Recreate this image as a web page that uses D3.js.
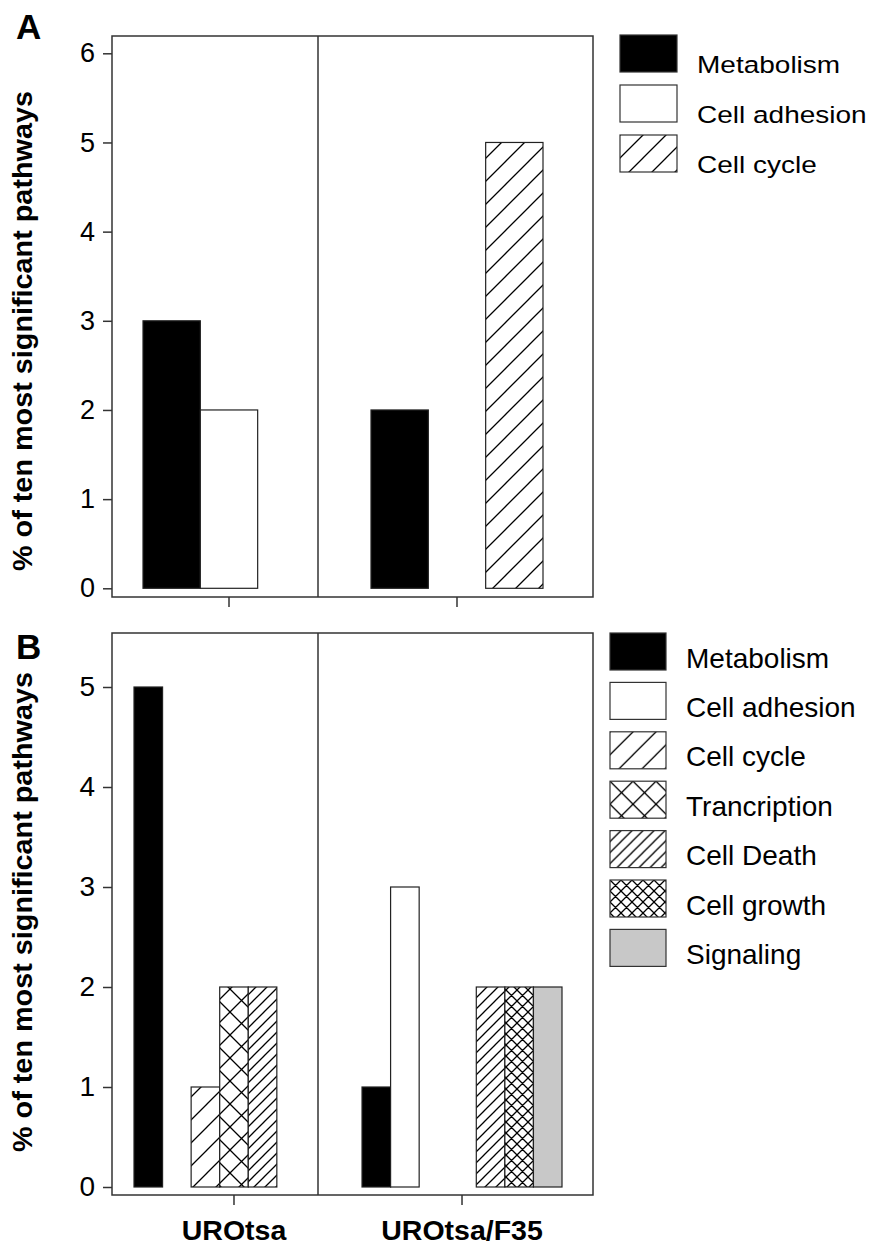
<!DOCTYPE html>
<html lang="en">
<head>
<meta charset="UTF-8">
<title>Pathways</title>
<script src="https://cdn.jsdelivr.net/npm/d3@7"></script>
<style>
  body { margin: 0; background: #fff; }
  text { font-family: Arial, "Liberation Sans", sans-serif; fill: #000; }
</style>
</head>
<body>
<script>
// data
var categories = ["UROtsa", "UROtsa/F35"];

var seriesA = ["Metabolism", "Cell adhesion", "Cell cycle"];
var metabolismA = [3, 2];
var adhesionA   = [2, 0];
var cycleA      = [0, 5];
var ticksA      = [0, 1, 2, 3, 4, 5, 6];

var seriesB = ["Metabolism", "Cell adhesion", "Cell cycle", "Trancription", "Cell Death", "Cell growth", "Signaling"];
var metabolismB    = [5, 1];
var adhesionB      = [0, 3];
var cycleB         = [1, 0];
var transcriptionB = [2, 0];
var deathB         = [2, 2];
var growthB        = [0, 2];
var signalingB     = [0, 2];
var ticksB         = [0, 1, 2, 3, 4, 5];

var yTitle = "% of ten most significant pathways";

var width = 873, height = 1245;
var svg = d3.select("body").append("svg")
    .attr("width", width).attr("height", height);

// fills for each series
var fills = {
    "Metabolism": "#000",
    "Cell adhesion": "#fff",
    "Cell cycle": "url(#hCycle)",
    "Trancription": "url(#hTrans)",
    "Cell Death": "url(#hDeath)",
    "Cell growth": "url(#hGrowth)",
    "Signaling": "#c8c8c8"
};

/* hatch patterns */
var defs = svg.append("defs");
function hatch(id, s, cross) {
    var p = defs.append("pattern").attr("id", id)
        .attr("patternUnits", "userSpaceOnUse")
        .attr("width", s).attr("height", s);
    p.append("rect").attr("width", s).attr("height", s).attr("fill", "#fff");
    var d = "M0," + s + "L" + s + ",0M-1,1L1,-1M" + (s - 1) + "," + (s + 1) + "L" + (s + 1) + "," + (s - 1);
    if (cross) d += "M0,0L" + s + "," + s + "M-1," + (s - 1) + "L1," + (s + 1) + "M" + (s - 1) + ",-1L" + (s + 1) + ",1";
    p.append("path").attr("d", d).attr("stroke", "#000").attr("stroke-width", 1.3).attr("fill", "none");
}
hatch("hCycle", 23, false);
hatch("hTrans", 23, true);
hatch("hDeath", 11, false);
hatch("hGrowth", 11, true);

/* one panel */
function panel(cfg) {
    var g = svg.append("g");

    var x = d3.scaleBand().domain(categories)
        .range(cfg.xRange).paddingInner(cfg.padInner);
    var xs = d3.scaleBand().domain(cfg.series).range([0, x.bandwidth()]);
    var y = d3.scaleLinear().domain([0, cfg.yMax]).range(cfg.yRange);

    // bars
    var rows = [];
    cfg.series.forEach(function (s, si) {
        categories.forEach(function (c, ci) {
            var v = cfg.values[si][ci];
            if (v > 0) rows.push({s: s, c: c, v: v});
        });
    });
    g.selectAll("rect.bar").data(rows).enter().append("rect")
        .attr("class", "bar")
        .attr("x", function (d) { return x(d.c) + xs(d.s); })
        .attr("y", function (d) { return y(d.v); })
        .attr("width", xs.bandwidth())
        .attr("height", function (d) { return y(0) - y(d.v); })
        .attr("fill", function (d) { return fills[d.s]; })
        .attr("stroke", "#222").attr("stroke-width", 1.2);

    // frame + divider
    var f = cfg.frame;
    g.append("rect").attr("x", f[0]).attr("y", f[1])
        .attr("width", f[2] - f[0]).attr("height", f[3] - f[1])
        .attr("fill", "none").attr("stroke", "#333").attr("stroke-width", 1.5);
    g.append("line").attr("x1", cfg.divider).attr("x2", cfg.divider)
        .attr("y1", f[1]).attr("y2", f[3])
        .attr("stroke", "#333").attr("stroke-width", 1.5);

    // y axis
    var ya = g.append("g").attr("transform", "translate(" + f[0] + ",0)")
        .call(d3.axisLeft(y).tickValues(cfg.ticks).tickFormat(d3.format("d"))
            .tickSize(9).tickPadding(8));
    ya.select(".domain").remove();
    ya.selectAll("line").attr("stroke", "#333").attr("stroke-width", 1.5);
    ya.selectAll("text").attr("font-size", cfg.tickFont).attr("fill", "#000")
        .attr("font-family", "Arial, 'Liberation Sans', sans-serif");

    // x axis
    var xa = g.append("g").attr("transform", "translate(0," + f[3] + ")")
        .call(d3.axisBottom(x).tickSize(10).tickPadding(15)
            .tickFormat(cfg.xLabels ? null : ""));
    xa.select(".domain").remove();
    xa.selectAll("line").attr("stroke", "#333").attr("stroke-width", 1.5);
    xa.selectAll("text").attr("font-size", 28.5).attr("font-weight", "bold")
        .attr("fill", "#000").attr("font-family", "Arial, 'Liberation Sans', sans-serif");

    // y title
    svg.append("text")
        .attr("transform", "translate(" + cfg.titleX + "," + cfg.titleY + ") rotate(-90)")
        .attr("text-anchor", "middle")
        .attr("font-size", 27).attr("font-weight", "bold")
        .attr("textLength", 480).attr("lengthAdjust", "spacingAndGlyphs")
        .text(yTitle);

    // panel letter
    svg.append("text").attr("x", 16).attr("y", cfg.letterY)
        .attr("font-size", 35).attr("font-weight", "bold").text(cfg.letter);

    // legend
    var lg = svg.selectAll("g.leg" + cfg.letter).data(cfg.series).enter().append("g")
        .attr("transform", function (d, i) {
            return "translate(" + cfg.legX + "," + (cfg.legY + i * cfg.legStep) + ")";
        });
    lg.append("rect").attr("width", cfg.legW).attr("height", 37)
        .attr("fill", function (d) { return fills[d]; })
        .attr("stroke", "#333").attr("stroke-width", 1.2);
    lg.append("text")
        .attr("transform", "translate(" + (cfg.legW + 20) + "," + cfg.legBase + ") scale(1," + cfg.legScale + ")")
        .attr("font-size", 28).text(function (d) { return d; });
}

panel({
    letter: "A", letterY: 39,
    series: seriesA, values: [metabolismA, adhesionA, cycleA],
    xRange: [143, 543], padInner: 0.2456,
    yMax: 6, yRange: [588.3, 53.3], ticks: ticksA, tickFont: 27,
    frame: [112, 36, 593, 597], divider: 318,
    xLabels: false,
    titleX: 32, titleY: 331,
    legX: 620, legY: 35, legStep: 50, legW: 57, legBase: 38, legScale: 0.86
});

panel({
    letter: "B", letterY: 659,
    series: seriesB,
    values: [metabolismB, adhesionB, cycleB, transcriptionB, deathB, growthB, signalingB],
    xRange: [134, 562], padInner: 0.123,
    yMax: 5, yRange: [1187, 687], ticks: ticksB, tickFont: 28,
    frame: [112, 633, 593, 1195], divider: 318,
    xLabels: true,
    titleX: 32, titleY: 912,
    legX: 610, legY: 633, legStep: 49.4, legW: 56, legBase: 34.6, legScale: 1
});
</script>
</body>
</html>
